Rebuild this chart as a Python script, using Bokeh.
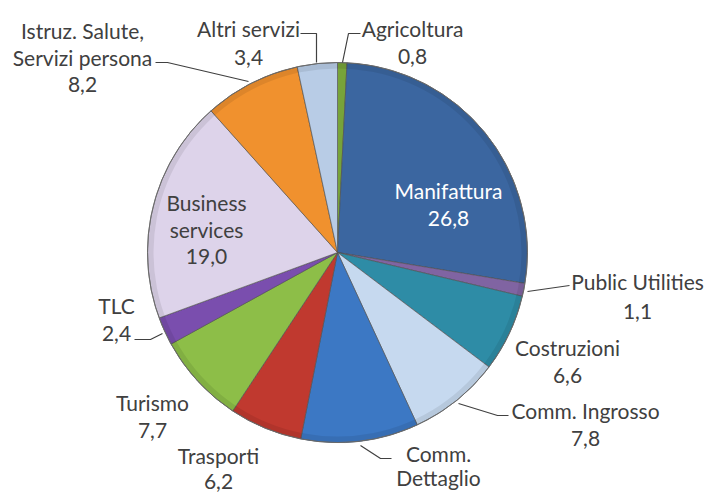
import numpy as np
from bokeh.plotting import figure
from bokeh.models import Range1d, ColumnDataSource
from bokeh.core.properties import value
from bokeh.embed import file_html
from bokeh.resources import INLINE

# ---- data (clockwise from 12 o'clock) ----
sectors = ["Agricoltura", "Manifattura", "Public Utilities", "Costruzioni",
           "Comm. Ingrosso", "Comm. Dettaglio", "Trasporti", "Turismo", "TLC",
           "Business services", "Istruz. Salute, Servizi persona", "Altri servizi"]
shares = [0.8, 26.8, 1.1, 6.6, 7.8, 10.0, 6.2, 7.7, 2.4, 19.0, 8.2, 3.4]
label_lines = [["Agricoltura"], ["Manifattura"], ["Public Utilities"], ["Costruzioni"],
               ["Comm. Ingrosso"], ["Comm.", "Dettaglio"], ["Trasporti"], ["Turismo"], ["TLC"],
               ["Business", "services"], ["Istruz. Salute,", "Servizi persona"], ["Altri servizi"]]
show_value = [True, True, True, True, True, False, True, True, True, True, True, True]

# ---- style / layout ----
colors = ["#77A33A", "#3B66A0", "#8064A2", "#2E8CA6", "#C6D9EF", "#3C78C4",
          "#C0392F", "#8DBE48", "#7A4EAE", "#DDD3EA", "#F0912E", "#B8CCE6"]
text_colors = ["#404040", "#FFFFFF"] + ["#404040"] * 10
# label anchor (screen px, centre of first line)
label_pos = [(412, 28), (448, 190), (637, 281), (567, 347), (585, 410), (438, 453),
             (218, 455), (152, 402), (116, 305), (206, 202), (82, 30), (248, 28)]
line_step = [28, 28, 30, 28, 28, 24, 26, 28, 28, 27, 27, 29]
leaders = [[(360, 33), (348, 33), (342, 62)],
           None,
           [(527, 291), (569, 285)],
           None,
           [(458, 403), (497, 415), (508, 415)],
           [(360, 445), (380, 458), (391, 458)],
           None, None,
           [(134, 339), (150, 339), (162, 333)],
           None,
           [(155, 62), (167, 62), (248, 81)],
           [(300, 33), (316, 33), (316, 62)]]

W, H = 709, 492
def sx(x): return x
def sy(y): return H - y

CX, CY, R = 337, 252, 190

p = figure(width=W, height=H, output_backend="svg", toolbar_location=None,
           x_range=Range1d(0, W), y_range=Range1d(0, H),
           min_border=0)
p.axis.visible = False
p.grid.visible = False
p.outline_line_color = None
p.background_fill_color = "white"

vals = np.array(shares, dtype=float)
total = vals.sum()
cum = np.concatenate([[0], np.cumsum(vals)])
start = np.pi / 2 - cum[:-1] / total * 2 * np.pi
end = np.pi / 2 - cum[1:] / total * 2 * np.pi

src = ColumnDataSource(dict(start=start, end=end, color=colors, name=sectors))
p.wedge(x=sx(CX), y=sy(CY), radius=R, radius_units="screen",
        start_angle="start", end_angle="end", direction="clock",
        fill_color="color", line_color="#505050", line_width=0.9, line_alpha=0.7,
        source=src)
# soft rim shading
p.annular_wedge(x=sx(CX), y=sy(CY), inner_radius=R - 6, outer_radius=R,
                inner_radius_units="screen", outer_radius_units="screen",
                start_angle=0, end_angle=2 * np.pi, fill_color="#000000",
                fill_alpha=0.08, line_color=None)
p.circle(x=sx(CX), y=sy(CY), radius=R, radius_units="screen",
         fill_color=None, line_color="#6a6a6a", line_width=1.0)

# leader lines
xs, ys = [], []
for ld in leaders:
    if ld is None:
        continue
    xs.append([sx(a) for a, b in ld])
    ys.append([sy(b) for a, b in ld])
p.multi_line(xs=xs, ys=ys, line_color="#404040", line_width=1.2)

# labels
tx, ty, tt, tc = [], [], [], []
for i, lines in enumerate(label_lines):
    x0, y0 = label_pos[i]
    allines = list(lines)
    if show_value[i]:
        allines.append(f"{shares[i]:.1f}".replace(".", ","))
    for k, t in enumerate(allines):
        tx.append(sx(x0))
        ty.append(sy(y0 + k * line_step[i]))
        tt.append(t)
        tc.append(text_colors[i])
p.text(x=tx, y=ty, text=tt, text_color=tc, text_align="center",
       text_baseline="middle", text_font=value("Lato"), text_font_size="21px")

open("out.html", "w").write(file_html(p, INLINE))
